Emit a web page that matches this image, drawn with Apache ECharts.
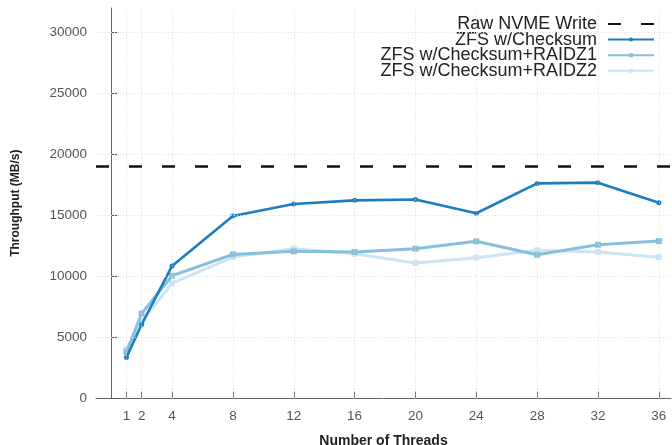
<!DOCTYPE html>
<html>
<head>
<meta charset="utf-8">
<script src="https://cdn.jsdelivr.net/npm/echarts@6/dist/echarts.min.js"></script>
<style>
html,body{margin:0;padding:0;background:#fff;}
#chart{width:672px;height:445px;}
</style>
</head>
<body>
<div id="chart"></div>
<script>
const threads = [1, 2, 4, 8, 12, 16, 20, 24, 28, 32, 36];
const xTicks = [1, 2, 4, 8, 12, 16, 20, 24, 28, 32, 36];
const yTicks = [0, 5000, 10000, 15000, 20000, 25000, 30000];
const xMin = -1;
const xMax = 36.8;
const rawNvme = 19000;
const checksum = [3350, 6050, 10850, 14950, 15930, 16230, 16300, 15170, 17620, 17680, 16030];
const raidz1 = [3800, 6950, 10050, 11800, 12050, 11990, 12260, 12870, 11770, 12590, 12890];
const raidz2 = [4000, 6300, 9420, 11580, 12260, 11850, 11090, 11530, 12130, 11990, 11560];
const names = ['Raw NVME Write', 'ZFS w/Checksum', 'ZFS w/Checksum+RAIDZ1', 'ZFS w/Checksum+RAIDZ2'];

const pair = (arr) => threads.map((t, i) => [t, arr[i]]);
const font = '"Liberation Sans", Arial, Helvetica, sans-serif';
const chart = echarts.init(document.getElementById('chart'), null, {renderer: 'canvas'});

const gridLineStyle = {color: '#dcdcdc', type: [1, 2], width: 1};

chart.setOption({
  animation: false,
  backgroundColor: '#fff',
  textStyle: {fontFamily: font},
  grid: {left: 96, right: 1, top: 8, bottom: 46.7, containLabel: false, outerBoundsMode: 'none'},
  legend: {
    orient: 'vertical',
    right: 12,
    top: 10,
    align: 'right',
    itemWidth: 46,
    itemHeight: 5,
    itemGap: -2.4,
    data: [
      {name: names[0], itemStyle: {opacity: 0}},
      {name: names[1]},
      {name: names[2]},
      {name: names[3]}
    ],
    textStyle: {fontFamily: font, fontSize: 18, color: '#222', lineHeight: 15.7, padding: [0, 6, 0, 0]}
  },
  xAxis: {
    type: 'value',
    min: xMin,
    max: xMax,
    name: 'Number of Threads',
    nameLocation: 'middle',
    nameGap: 36,
    nameTextStyle: {fontFamily: font, fontSize: 14, fontWeight: 'bold', color: '#222'},
    axisLine: {show: true, onZero: false, lineStyle: {color: '#666', width: 1}},
    axisTick: {show: true, inside: true, length: 7, customValues: xTicks, lineStyle: {color: '#555'}},
    axisLabel: {customValues: xTicks, margin: 11, fontSize: 13.5, color: '#555', fontFamily: font},
    splitLine: {show: false}
  },
  yAxis: {
    type: 'value',
    min: 0,
    max: 32000,
    name: 'Throughput (MB/s)',
    nameLocation: 'middle',
    nameGap: 74,
    nameTextStyle: {fontFamily: font, fontSize: 12, fontWeight: 'bold', color: '#222'},
    axisLine: {show: true, lineStyle: {color: '#666', width: 1}},
    axisTick: {show: true, inside: true, length: 7, customValues: yTicks, lineStyle: {color: '#555'}},
    axisLabel: {customValues: yTicks, margin: 9, fontSize: 13.5, color: '#555', fontFamily: font,
      formatter: (v) => String(v)},
    splitLine: {show: false}
  },
  series: [
    {
      name: names[0],
      type: 'line',
      data: [[xMin, rawNvme], [xMax, rawNvme]],
      symbol: 'none',
      z: 5,
      lineStyle: {color: '#111', width: 2.5, type: [13, 20]},
      itemStyle: {color: '#111'}
    },
    {
      name: names[1],
      type: 'line',
      data: pair(checksum),
      symbol: 'circle',
      symbolSize: 5,
      z: 4,
      lineStyle: {color: '#1c7dc0', width: 2.6},
      itemStyle: {color: '#1c7dc0'}
    },
    {
      name: names[2],
      type: 'line',
      data: pair(raidz1),
      symbol: 'rect',
      symbolSize: 6,
      z: 3,
      lineStyle: {color: '#86c0dc', width: 3},
      itemStyle: {color: '#86c0dc'}
    },
    {
      name: names[3],
      type: 'line',
      data: pair(raidz2),
      symbol: 'rect',
      symbolSize: 6,
      z: 2,
      lineStyle: {color: '#cde4f2', width: 3},
      itemStyle: {color: '#cde4f2'}
    },
    {
      name: 'grid',
      type: 'line',
      data: [],
      silent: true,
      z: 0,
      markLine: {
        silent: true,
        symbol: 'none',
        label: {show: false},
        animation: false,
        lineStyle: gridLineStyle,
        data: xTicks.map((v) => ({xAxis: v})).concat(yTicks.filter((v) => v > 0).map((v) => ({yAxis: v})))
      }
    }
  ]
});
</script>
</body>
</html>
